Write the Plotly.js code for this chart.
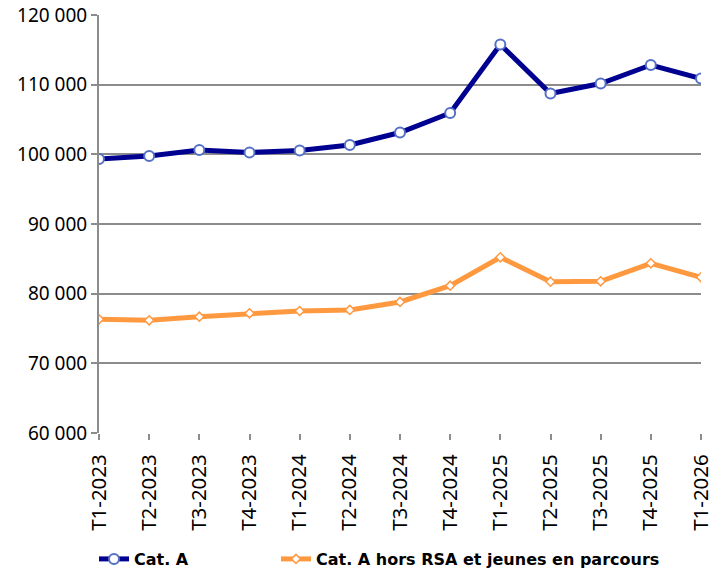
<!DOCTYPE html>
<html>
<head>
<meta charset="utf-8">
<script src="https://cdn.plot.ly/plotly-3.0.1.min.js"></script>
<style>html,body{margin:0;padding:0;background:#fff}#chart{width:726px;height:570px}</style>
</head>
<body>
<div id="chart"></div>
<script>
const categories = ["T1-2023","T2-2023","T3-2023","T4-2023","T1-2024","T2-2024","T3-2024","T4-2024","T1-2025","T2-2025","T3-2025","T4-2025","T1-2026"];
const catA = [99330, 99760, 100620, 100260, 100550, 101340, 103130, 105930, 115770, 108730, 110170, 112820, 110890];
const catAHorsRSA = [76320, 76180, 76700, 77180, 77510, 77660, 78810, 81150, 85220, 81720, 81770, 84360, 82350];
const yTickVals = [60000, 70000, 80000, 90000, 100000, 110000, 120000];
const yTickText = ["60 000","70 000","80 000","90 000","100 000","110 000","120 000"];
const seriesNames = ["Cat. A", "Cat. A hors RSA et jeunes en parcours"];

const traces = [
  {
    x: categories, y: catA, name: seriesNames[0], type: "scatter", mode: "lines+markers",
    legend: "legend",
    line: {color: "#000091", width: 5},
    marker: {symbol: "circle", size: 10, color: "#ffffff", line: {color: "#5470c6", width: 2}}
  },
  {
    x: categories, y: catAHorsRSA, name: seriesNames[1], type: "scatter", mode: "lines+markers",
    legend: "legend2",
    line: {color: "#ff9940", width: 5},
    marker: {symbol: "diamond", size: 7, color: "#ffffff", line: {color: "#ff9940", width: 1.5}}
  }
];

const legendFont = {family: "DejaVu Sans, sans-serif", size: 16, color: "#000", weight: "bold"};

const layout = {
  width: 726, height: 570,
  margin: {l: 99, r: 25, t: 15, b: 137},
  paper_bgcolor: "#ffffff", plot_bgcolor: "#ffffff",
  showlegend: true,
  font: {family: "Noto Sans, sans-serif", color: "#000000"},
  xaxis: {
    type: "category", range: [0, 12], automargin: false,
    showgrid: false, zeroline: false,
    showline: false,
    ticks: "outside", ticklen: 6, tickwidth: 2, tickcolor: "#8c8c8c",
    tickangle: -90, ticklabelstandoff: 6,
    tickfont: {family: "Noto Sans, sans-serif", size: 20.5, color: "#000"},
    fixedrange: true
  },
  yaxis: {
    range: [60000, 120000], automargin: false,
    tickvals: yTickVals, ticktext: yTickText,
    showgrid: true, gridcolor: "#8c8c8c", gridwidth: 2,
    zeroline: false,
    showline: true, linecolor: "#8c8c8c", linewidth: 2,
    ticks: "outside", ticklen: 6, tickwidth: 2, tickcolor: "#8c8c8c",
    tickfont: {family: "Noto Sans, sans-serif", size: 19, color: "#000"},
    fixedrange: true
  },
  legend: {
    orientation: "h", xref: "container", yref: "container",
    x: 94 / 726, xanchor: "left", y: 11 / 570, yanchor: "middle",
    font: legendFont, bgcolor: "rgba(0,0,0,0)"
  },
  legend2: {
    orientation: "h", xref: "container", yref: "container",
    x: 276 / 726, xanchor: "left", y: 11 / 570, yanchor: "middle",
    font: legendFont, bgcolor: "rgba(0,0,0,0)"
  }
};

Plotly.newPlot("chart", traces, layout, {displayModeBar: false, staticPlot: true});
</script>
</body>
</html>
